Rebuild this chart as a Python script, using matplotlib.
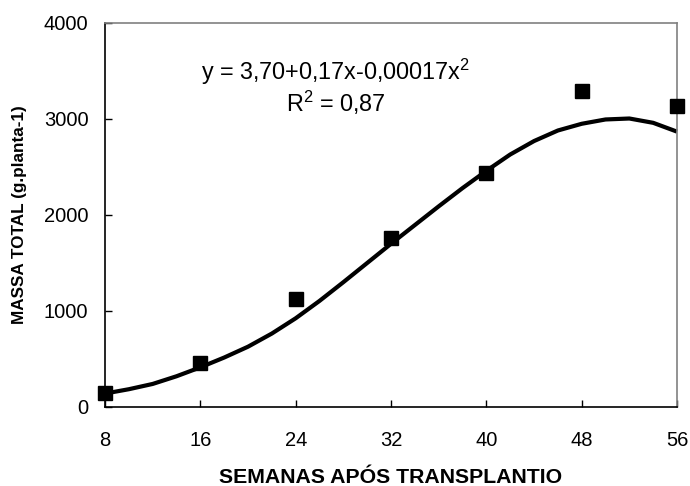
import matplotlib
matplotlib.use("Agg")
import matplotlib.pyplot as plt

# Observed data (weeks after transplanting, total mass)
semanas = [8, 16, 24, 32, 40, 48, 56]
massa = [146, 458, 1125, 1763, 2434, 3295, 3135]

# Fitted trend curve
curva_x = [8, 10, 12, 14, 16, 18, 20, 22, 24, 26, 28, 30, 32, 34, 36, 38, 40,
           42, 44, 46, 48, 50, 52, 54, 56]
curva_y = [140, 185, 240, 320, 413, 515, 628, 765, 924, 1105, 1300, 1500, 1700,
           1895, 2090, 2280, 2460, 2630, 2770, 2880, 2950, 2995, 3005, 2960, 2868]

xticks = [8, 16, 24, 32, 40, 48, 56]
yticks = [0, 1000, 2000, 3000, 4000]

plt.rcParams['font.family'] = ['Liberation Sans', 'DejaVu Sans']
plt.rcParams['mathtext.fontset'] = 'custom'
plt.rcParams['mathtext.rm'] = 'Liberation Sans'
plt.rcParams['mathtext.it'] = 'Liberation Sans'

fig = plt.figure(figsize=(6.9, 4.86), dpi=100)
ax = fig.add_axes([0.1522, 0.1626, 0.9812 - 0.1522, 0.9527 - 0.1626])

ax.plot(curva_x, curva_y, color='black', lw=3.0, zorder=2, clip_on=False,
        solid_capstyle='butt', solid_joinstyle='round')
ax.plot(semanas, massa, linestyle='none', marker='s', markersize=10,
        color='black', zorder=3, clip_on=False)

ax.set_xlim(8, 56)
ax.set_ylim(0, 4000)
ax.set_xticks(xticks)
ax.set_yticks(yticks)
ax.tick_params(axis='both', direction='in', length=5, width=1, labelsize=14.5)
ax.tick_params(axis='x', pad=17)
ax.tick_params(axis='y', pad=12)

for s in ['left', 'bottom']:
    ax.spines[s].set_color('black')
    ax.spines[s].set_linewidth(1.2)
for s in ['top', 'right']:
    ax.spines[s].set_color('#808080')
    ax.spines[s].set_linewidth(1.2)

ax.set_xlabel('SEMANAS APÓS TRANSPLANTIO', fontsize=15.3, fontweight='bold',
              labelpad=13)
ax.set_ylabel('MASSA TOTAL (g.planta-1)', fontsize=12.3, fontweight='bold',
              labelpad=12)

ax.text(0.404, 0.872, 'y = 3,70+0,17x-0,00017x$^{2}$', transform=ax.transAxes,
        ha='center', va='center', fontsize=16.8)
ax.text(0.404, 0.792, 'R$^{2}$ = 0,87', transform=ax.transAxes,
        ha='center', va='center', fontsize=16.8)

fig.savefig('out.png', dpi=100)
